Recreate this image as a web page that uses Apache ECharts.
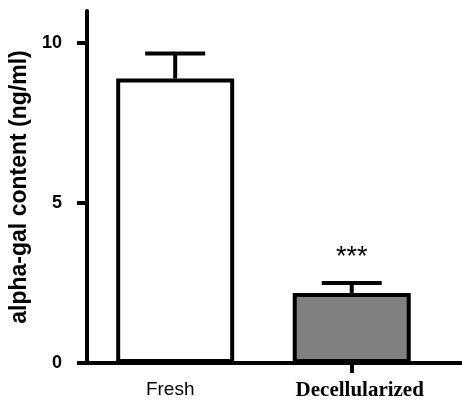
<!DOCTYPE html>
<html>
<head>
<meta charset="utf-8">
<script src="https://cdn.jsdelivr.net/npm/echarts@6/dist/echarts.min.js"></script>
<style>
html,body{margin:0;padding:0;background:#fff;}
#chart{width:462px;height:404px;}
</style>
</head>
<body>
<div id="chart"></div>
<script>
var categories = ['Fresh', 'Decellularized'];
var means = [8.89, 2.19];
var errors = [0.78, 0.31];
var sigLabels = ['', '***'];
var yTicks = [0, 5, 10];
var barColors = ['#ffffff', '#808080'];

var chart = echarts.init(document.getElementById('chart'), null, {renderer: 'canvas'});

var errData = means.map(function (m, i) { return [i, m, m + errors[i]]; });

var option = {
  animation: false,
  backgroundColor: '#ffffff',
  grid: [
    {left: 83, right: 22, top: 11, bottom: 41},
    {left: 83, right: 0, top: 11, bottom: 41}
  ],
  xAxis: [
    {
      type: 'category',
      gridIndex: 0,
      data: categories,
      axisLine: {lineStyle: {color: '#000', width: 4}},
      axisTick: {
        show: true,
        alignWithLabel: true,
        length: 10,
        interval: function (index) { return index === 1; },
        lineStyle: {color: '#000', width: 4}
      },
      axisLabel: {
        margin: 17,
        interval: 0,
        formatter: function (v, i) { return i === 0 ? '{a|' + v + '}' : '{b|' + v + '}'; },
        rich: {
          a: {fontFamily: 'Liberation Sans', fontSize: 19, color: '#000', padding: [0, 10, 0, 0]},
          b: {fontFamily: 'Liberation Serif', fontSize: 21, fontWeight: 'bold', color: '#000', padding: [0, 0, 0, 16]}
        }
      }
    },
    {
      type: 'value',
      gridIndex: 1,
      min: 0,
      max: 1,
      axisLine: {show: true, lineStyle: {color: '#000', width: 4}},
      axisTick: {show: false},
      axisLabel: {show: false},
      splitLine: {show: false}
    }
  ],
  yAxis: [
    {
      type: 'value',
      gridIndex: 0,
      min: 0,
      max: 11,
      interval: 5,
      name: 'alpha-gal content (ng/ml)',
      nameLocation: 'middle',
      nameGap: 46,
      nameTextStyle: {fontFamily: 'Liberation Sans', fontSize: 23, fontWeight: 'bold', color: '#000'},
      axisLine: {show: true, lineStyle: {color: '#000', width: 4}},
      axisTick: {show: true, length: 10, customValues: yTicks, lineStyle: {color: '#000', width: 4}},
      axisLabel: {
        customValues: yTicks,
        margin: 25,
        fontFamily: 'Liberation Sans',
        fontSize: 18,
        fontWeight: 'bold',
        color: '#000'
      },
      splitLine: {show: false}
    },
    {
      type: 'value',
      gridIndex: 1,
      show: false
    }
  ],
  series: [
    {
      type: 'bar',
      xAxisIndex: 0,
      yAxisIndex: 0,
      barWidth: 118,
      data: means.map(function (m, i) {
        return {value: m, itemStyle: {color: barColors[i]}};
      }),
      itemStyle: {borderColor: '#000', borderWidth: 4},
      z: 2
    },
    {
      type: 'custom',
      xAxisIndex: 0,
      yAxisIndex: 0,
      data: errData,
      z: 3,
      renderItem: function (params, api) {
        var x = api.value(0);
        var base = api.coord([x, api.value(1)]);
        var top = api.coord([x, api.value(2)]);
        var half = 30;
        var label = sigLabels[params.dataIndex];
        var children = [
          {type: 'line', shape: {x1: base[0], y1: base[1], x2: top[0], y2: top[1]}, style: {stroke: '#000', lineWidth: 4}},
          {type: 'line', shape: {x1: top[0] - half, y1: top[1], x2: top[0] + half, y2: top[1]}, style: {stroke: '#000', lineWidth: 4}}
        ];
        if (label) {
          children.push({
            type: 'text',
            style: {
              text: label,
              x: top[0],
              y: top[1] - 25,
              align: 'center',
              verticalAlign: 'middle',
              fontFamily: 'Liberation Sans',
              fontSize: 27,
              fill: '#000'
            }
          });
        }
        return {type: 'group', children: children};
      }
    }
  ]
};
chart.setOption(option);
</script>
</body>
</html>
